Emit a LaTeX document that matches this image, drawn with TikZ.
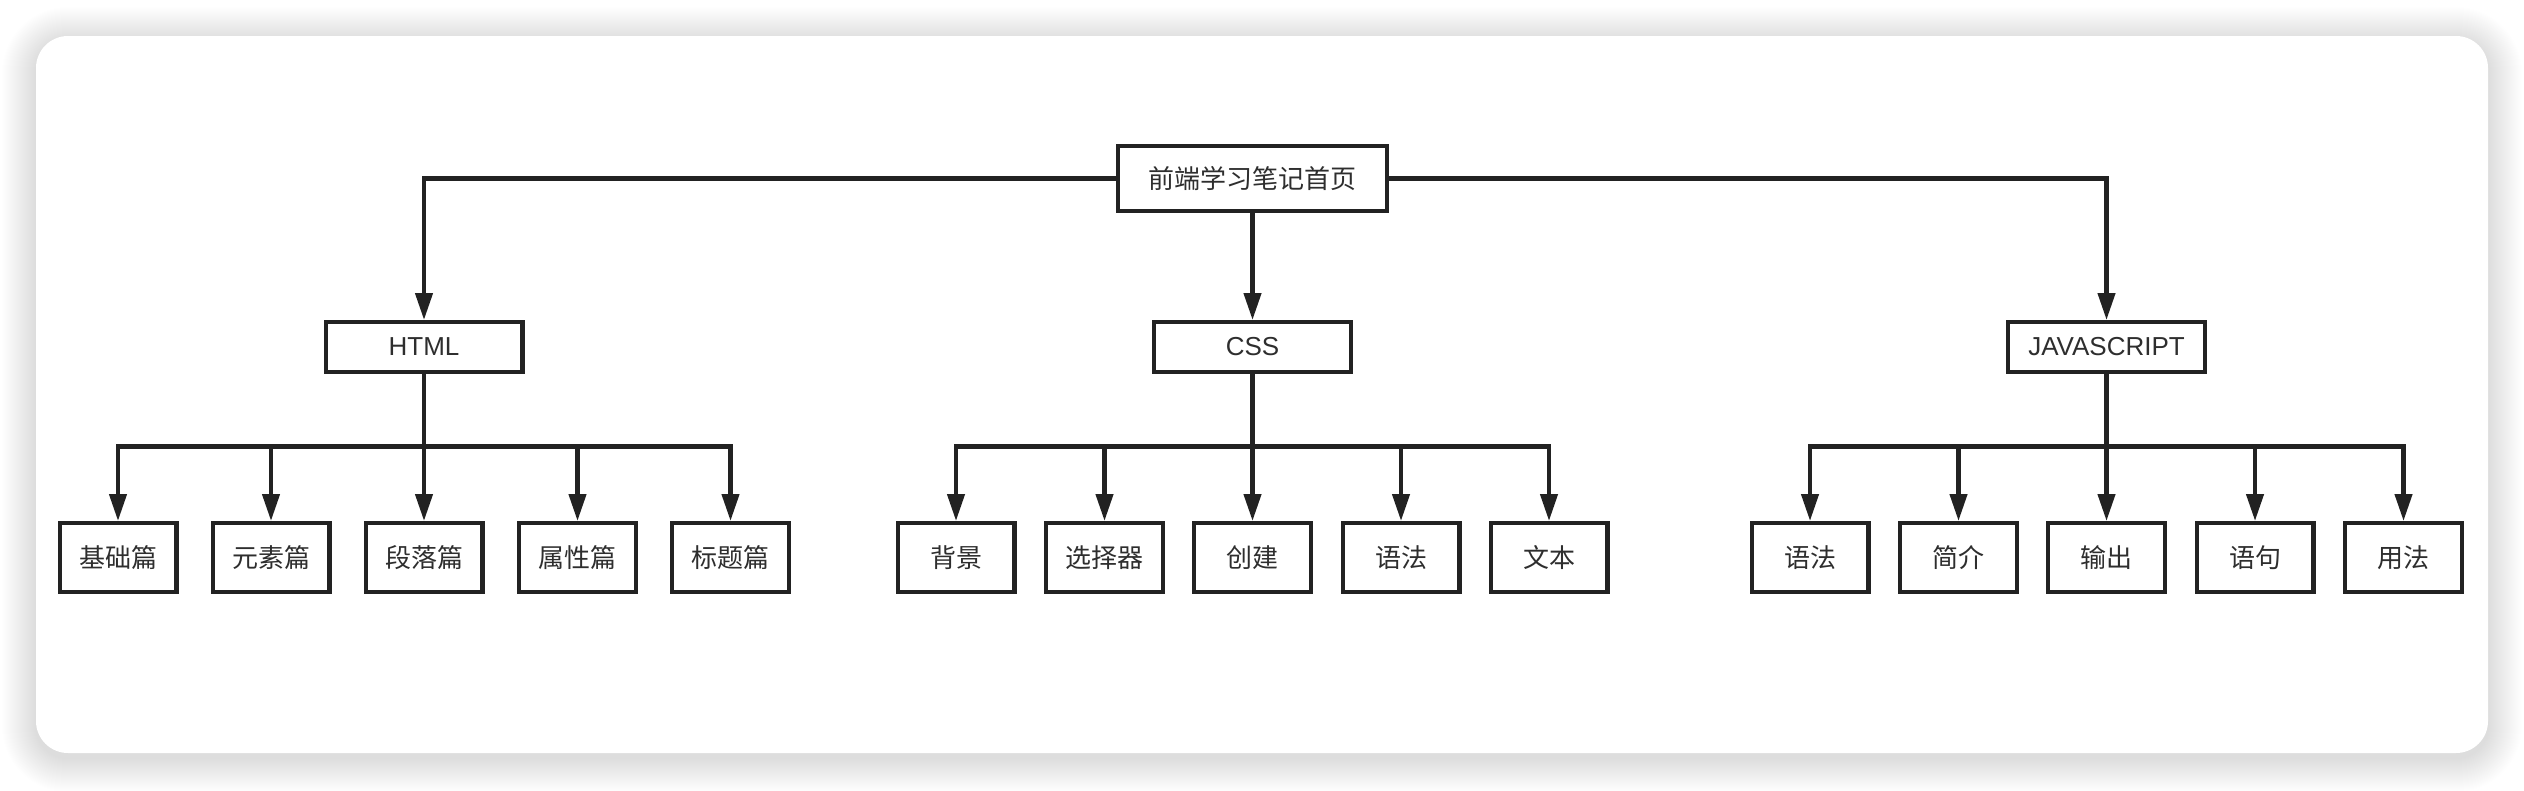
\documentclass[tikz,border=0pt]{standalone}
\usepackage{fontspec}
\setmainfont{Noto Sans CJK SC}
\newfontfamily\latinfont{Liberation Sans}
\usetikzlibrary{arrows.meta}
\definecolor{ink}{HTML}{222222}
\definecolor{txt}{HTML}{2E2E2E}
\begin{document}
\begin{tikzpicture}[x=1pt,y=-1pt,
  lw/.style={line width=4.3pt},
  box/.style={draw=ink, lw, fill=white, text=txt, inner sep=0pt,
    font=\fontsize{26}{30}\selectfont},
  rootbox/.style={box, minimum width=268.7pt, minimum height=64.7pt},
  midbox/.style={box, minimum width=196.7pt, minimum height=49.7pt,
    font=\latinfont\fontsize{26}{30}\selectfont},
  leafbox/.style={box, minimum width=116.7pt, minimum height=68.7pt},
  arr/.style={draw=ink, lw, -{Triangle[length=27pt,width=17pt]}}
]
\useasboundingbox (0,0) rectangle (2524,790);
\fill[white] (0,0) rectangle (2524,790);
% card shadow
\foreach \i in {1,...,34}{
  \fill[black, opacity=0.005, rounded corners={32pt+\i pt}]
    ({36-\i},{36-\i+5}) rectangle ({2488+\i},{753+\i+5});
}
\fill[white, rounded corners=32pt] (36,36) rectangle (2488,753);

% nodes
\node[rootbox] (root) at (1252.5,178.5) {前端学习笔记首页};
\node[midbox] (html) at (424,347) {HTML};
\node[midbox] (css) at (1252.5,347) {CSS};
\node[midbox] (js) at (2106.5,347) {JAVASCRIPT};

\node[leafbox] (h1) at (118,557.5) {基础篇};
\node[leafbox] (h2) at (271,557.5) {元素篇};
\node[leafbox] (h3) at (424,557.5) {段落篇};
\node[leafbox] (h4) at (577.5,557.5) {属性篇};
\node[leafbox] (h5) at (730.5,557.5) {标题篇};

\node[leafbox] (c1) at (956,557.5) {背景};
\node[leafbox] (c2) at (1104.5,557.5) {选择器};
\node[leafbox] (c3) at (1252.5,557.5) {创建};
\node[leafbox] (c4) at (1401,557.5) {语法};
\node[leafbox] (c5) at (1549,557.5) {文本};

\node[leafbox] (j1) at (1810,557.5) {语法};
\node[leafbox] (j2) at (1958.5,557.5) {简介};
\node[leafbox] (j3) at (2106.5,557.5) {输出};
\node[leafbox] (j4) at (2255,557.5) {语句};
\node[leafbox] (j5) at (2403.5,557.5) {用法};

% bus points
\coordinate (hb) at (424,446.5);
\coordinate (cb) at (1252.5,446.5);
\coordinate (jb) at (2106.5,446.5);

% connectors
\draw[arr] (root.west) -| (html.north);
\draw[arr] (root.south) -- (css.north);
\draw[arr] (root.east) -| (js.north);

\foreach \n in {h1,h2,h3,h4,h5}{ \draw[arr] (html.south) -- (hb) -| (\n.north); }
\foreach \n in {c1,c2,c3,c4,c5}{ \draw[arr] (css.south) -- (cb) -| (\n.north); }
\foreach \n in {j1,j2,j3,j4,j5}{ \draw[arr] (js.south) -- (jb) -| (\n.north); }
\end{tikzpicture}
\end{document}
